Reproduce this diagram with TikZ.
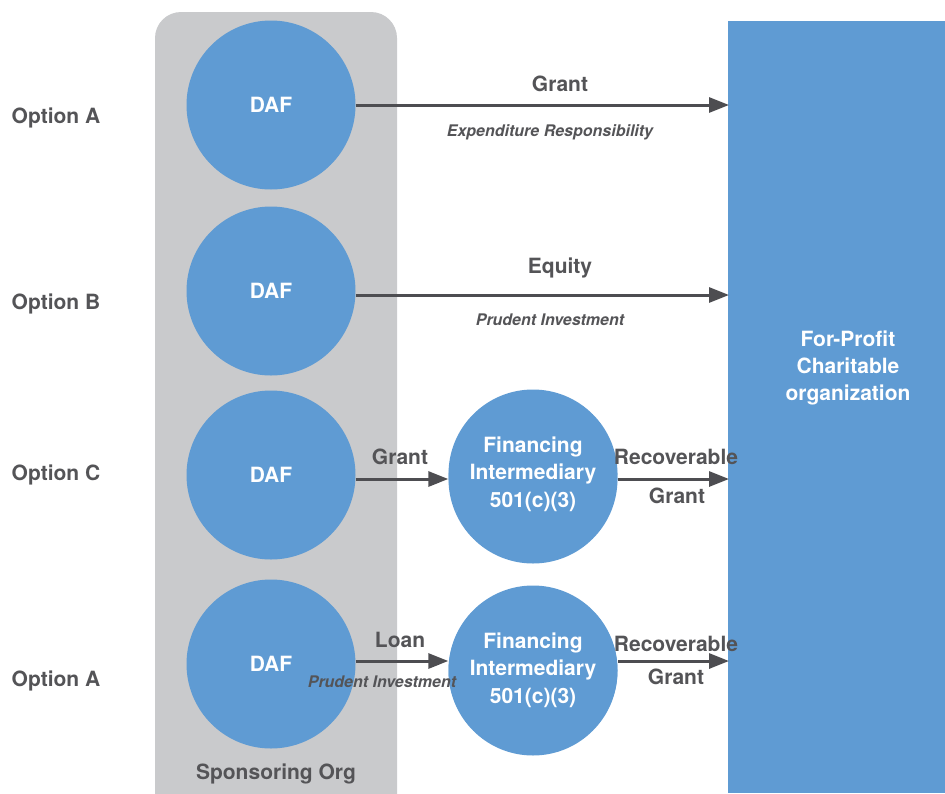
\documentclass[tikz,border=0pt]{standalone}
\usepackage{fontspec}
\setmainfont{TeX Gyre Heros}
\usetikzlibrary{arrows.meta}
\definecolor{dafblue}{HTML}{5F9BD3}
\definecolor{sponsgray}{HTML}{C9CACC}
\definecolor{darktext}{HTML}{545457}
\definecolor{arrowcol}{HTML}{4D4D51}
\tikzset{
  daf/.style={circle,fill=dafblue,minimum size=169pt,inner sep=0pt,text=white,font=\fontsize{21}{24}\selectfont\bfseries,align=center},
  inter/.style={daf,font=\fontsize{21}{27.5}\selectfont\bfseries},
  optlabel/.style={text=darktext,font=\fontsize{21}{24}\selectfont\bfseries},
  lbl/.style={text=darktext,font=\fontsize{21}{24}\selectfont\bfseries,inner sep=0pt},
  sublbl/.style={text=darktext,font=\fontsize{16}{18}\selectfont\bfseries\itshape,inner sep=0pt},
  flow/.style={draw=arrowcol,line width=3pt,-{Triangle[length=20pt,width=15pt]}},
}
\begin{document}
\begin{tikzpicture}[x=1pt,y=-1pt]
\useasboundingbox (0,0) rectangle (945,793);
% sponsoring org
\fill[sponsgray,rounded corners=26pt] (155,12) rectangle (397,820);
\node[text=darktext,font=\fontsize{21}{24}\selectfont\bfseries] (spons) at (276,774) {Sponsoring Org};
% for-profit
\fill[dafblue] (728,21) rectangle (945,793);
\node[text=white,font=\fontsize{21}{27}\selectfont\bfseries,align=center] (fp) at (848,368) {For-Profit\\Charitable\\organization};
\coordinate (t1) at (729,105);
\coordinate (t2) at (729,295);
\coordinate (t3) at (729,479);
\coordinate (t4) at (729,661);
% option labels
\node[optlabel] (oa) at (56,118) {Option A};
\node[optlabel] (ob) at (56,304) {Option B};
\node[optlabel] (oc) at (56,475) {Option C};
\node[optlabel] (od) at (56,681) {Option A};
% DAF circles
\node[daf] (d1) at (271,105) {DAF};
\node[daf] (d2) at (271,291) {DAF};
\node[daf] (d3) at (271,475) {DAF};
\node[daf] (d4) at (271,664) {DAF};
% intermediaries
\node[inter] (f1) at (533,479) {};
\node[inter,anchor=center] (f1t) at (533,474) {Financing\\Intermediary\\501(c)(3)};
\node[inter] (f2) at (533,671) {};
\node[inter,anchor=center] (f2t) at (533,670) {Financing\\Intermediary\\501(c)(3)};
% arrows
\draw[flow] (d1.east) -- (t1);
\draw[flow] (d2.east |- t2) -- (t2);
\draw[flow] (d3.east |- t3) -- (f1.west);
\draw[flow] (f1.east) -- (t3);
\draw[flow] (d4.east |- t4) -- (f2.west |- t4);
\draw[flow] (f2.east |- t4) -- (t4);
% labels
\node[lbl] (g1) at (560,84) {Grant};
\node[sublbl] (er) at (550,132) {Expenditure Responsibility};
\node[lbl] (eq) at (560,268) {Equity};
\node[sublbl] (pi1) at (550,320) {Prudent Investment};
\node[lbl] (g3) at (400,457) {Grant};
\node[lbl] (r3) at (676,457) {Recoverable};
\node[lbl] (rg3) at (677,496) {Grant};
\node[lbl] (ln) at (400,640) {Loan};
\node[sublbl] (pi2) at (382,682) {Prudent Investment};
\node[lbl] (r4) at (676,644) {Recoverable};
\node[lbl] (rg4) at (676,677) {Grant};
\end{tikzpicture}
\end{document}
